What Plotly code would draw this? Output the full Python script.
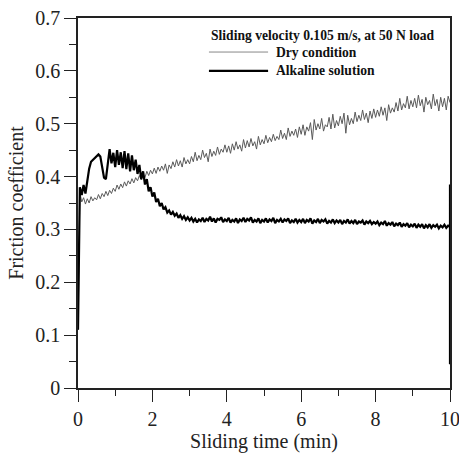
import numpy as np
import plotly.graph_objects as go

# Sampling grid (min), 0.05 min step
time_min = np.round(np.arange(0, 201) * 0.05, 2)

dry_condition = [
    0.11, 0.37, 0.352, 0.36, 0.348, 0.358, 0.35, 0.362, 0.354, 0.36, 0.356, 0.366, 0.358, 0.368, 0.362, 0.372, 0.364, 0.374, 0.368, 0.378,
    0.372, 0.384, 0.376, 0.386, 0.379, 0.39, 0.382, 0.392, 0.386, 0.396, 0.388, 0.398, 0.392, 0.402, 0.394, 0.404, 0.398, 0.41, 0.402, 0.412,
    0.405, 0.416, 0.406, 0.418, 0.41, 0.42, 0.412, 0.424, 0.406, 0.422, 0.415, 0.428, 0.418, 0.432, 0.42, 0.43, 0.418, 0.436, 0.424, 0.432,
    0.424, 0.438, 0.428, 0.446, 0.43, 0.44, 0.432, 0.45, 0.436, 0.444, 0.428, 0.452, 0.438, 0.448, 0.44, 0.456, 0.442, 0.452, 0.446, 0.46,
    0.446, 0.458, 0.444, 0.462, 0.45, 0.466, 0.452, 0.46, 0.448, 0.47, 0.454, 0.468, 0.456, 0.472, 0.458, 0.466, 0.452, 0.476, 0.46, 0.47,
    0.462, 0.478, 0.464, 0.474, 0.466, 0.48, 0.468, 0.476, 0.47, 0.488, 0.472, 0.482, 0.47, 0.492, 0.476, 0.486, 0.478, 0.49, 0.474, 0.494,
    0.48, 0.498, 0.478, 0.494, 0.486, 0.502, 0.47, 0.508, 0.488, 0.5, 0.49, 0.51, 0.486, 0.498, 0.494, 0.512, 0.49, 0.518, 0.492, 0.506,
    0.496, 0.514, 0.5, 0.52, 0.482, 0.516, 0.498, 0.51, 0.5, 0.522, 0.504, 0.516, 0.506, 0.526, 0.508, 0.52, 0.502, 0.524, 0.51, 0.528,
    0.512, 0.526, 0.514, 0.532, 0.516, 0.53, 0.506, 0.536, 0.52, 0.53, 0.522, 0.54, 0.524, 0.548, 0.526, 0.538, 0.53, 0.552, 0.528, 0.544,
    0.532, 0.548, 0.53, 0.554, 0.534, 0.546, 0.522, 0.55, 0.536, 0.544, 0.528, 0.556, 0.534, 0.546, 0.524, 0.55, 0.532, 0.548, 0.526, 0.552,
    0.54,
]

alkaline_solution = [
    0.11, 0.38, 0.365, 0.384, 0.368, 0.39, 0.415, 0.428, 0.432, 0.436, 0.44, 0.442, 0.438, 0.42, 0.398, 0.395, 0.43, 0.452, 0.425, 0.445,
    0.418, 0.45, 0.422, 0.446, 0.416, 0.448, 0.414, 0.444, 0.41, 0.44, 0.412, 0.432, 0.405, 0.422, 0.395, 0.41, 0.385, 0.395, 0.372, 0.38,
    0.362, 0.37, 0.352, 0.358, 0.344, 0.35, 0.338, 0.342, 0.332, 0.336, 0.328, 0.333, 0.326, 0.33, 0.322, 0.327, 0.32, 0.325, 0.318, 0.323,
    0.317, 0.322, 0.315, 0.32, 0.313, 0.319, 0.316, 0.322, 0.314, 0.32, 0.317, 0.324, 0.315, 0.321, 0.313, 0.32, 0.318, 0.323, 0.314, 0.319,
    0.316, 0.322, 0.313, 0.318, 0.315, 0.321, 0.312, 0.319, 0.316, 0.322, 0.314, 0.32, 0.317, 0.323, 0.313, 0.318, 0.315, 0.321, 0.312, 0.318,
    0.315, 0.321, 0.313, 0.319, 0.316, 0.322, 0.312, 0.318, 0.315, 0.32, 0.313, 0.319, 0.316, 0.321, 0.312, 0.317, 0.314, 0.32, 0.313, 0.318,
    0.314, 0.32, 0.312, 0.318, 0.315, 0.321, 0.311, 0.317, 0.314, 0.32, 0.312, 0.318, 0.315, 0.319, 0.311, 0.316, 0.313, 0.319, 0.312, 0.317,
    0.313, 0.318, 0.31, 0.316, 0.313, 0.319, 0.311, 0.316, 0.312, 0.318, 0.31, 0.315, 0.313, 0.317, 0.309, 0.315, 0.312, 0.316, 0.31, 0.314,
    0.311, 0.315, 0.308, 0.313, 0.31, 0.316, 0.307, 0.312, 0.309, 0.314, 0.306, 0.311, 0.308, 0.313, 0.305, 0.31, 0.307, 0.312, 0.304, 0.309,
    0.306, 0.311, 0.303, 0.309, 0.305, 0.31, 0.302, 0.308, 0.304, 0.31, 0.303, 0.308, 0.305, 0.309, 0.302, 0.307, 0.304, 0.309, 0.303, 0.307,
    0.305,
]
# final unloading step recorded at the end of the run
alkaline_end_time = [10.0, 10.0]
alkaline_end_values = [0.385, 0.045]

legend_title = "Sliding velocity 0.105 m/s, at 50 N load"
series_names = ["Dry condition", "Alkaline solution"]
x_title = "Sliding time (min)"
y_title = "Friction coefficient"

FONT = "Liberation Serif"
DRY_COLOR = "#5a5a5a"
ALK_COLOR = "#000000"

fig = go.Figure()
fig.add_trace(go.Scatter(x=time_min, y=dry_condition, mode="lines",
                         line=dict(color=DRY_COLOR, width=1), name=series_names[0]))
fig.add_trace(go.Scatter(x=list(time_min) + alkaline_end_time,
                         y=alkaline_solution + alkaline_end_values, mode="lines",
                         line=dict(color=ALK_COLOR, width=2.2), name=series_names[1]))

axis_common = dict(showline=True, linecolor="#222", linewidth=1.5, mirror=True,
                   ticks="outside", ticklen=12, tickwidth=1.3, tickcolor="#222",
                   showgrid=False, zeroline=False, automargin=False,
                   ticklabeloverflow="allow",
                   tickfont=dict(family=FONT, size=20, color="#222"))

fig.update_xaxes(range=[0, 10], dtick=2, tick0=0,
                 minor=dict(dtick=1, ticks="outside", ticklen=6, tickcolor="#222", tickwidth=1.2),
                 title=dict(text=x_title, font=dict(family=FONT, size=20, color="#222"), standoff=4),
                 **axis_common)
fig.update_yaxes(range=[0, 0.7], dtick=0.1, tick0=0,
                 minor=dict(dtick=0.05, ticks="outside", ticklen=7, tickcolor="#222", tickwidth=1.2),
                 title=dict(text=y_title, font=dict(family=FONT, size=20, color="#222"), standoff=6),
                 **axis_common)

# Legend drawn as in the original (title line + two samples)
lx0, lx1, ltx = 0.352, 0.511, 0.527
fig.add_annotation(xref="paper", yref="paper", x=lx0, y=0.954, xanchor="left", yanchor="middle",
                   text="<b>" + legend_title + "</b>", showarrow=False,
                   font=dict(family=FONT, size=13.6, color="#111"))
for yy, name, col, w in [(0.908, series_names[0], "#888888", 1), (0.857, series_names[1], ALK_COLOR, 2.2)]:
    fig.add_shape(type="line", xref="paper", yref="paper", x0=lx0, x1=lx1, y0=yy, y1=yy,
                  line=dict(color=col, width=w))
    fig.add_annotation(xref="paper", yref="paper", x=ltx, y=yy, xanchor="left", yanchor="middle",
                       text="<b>" + name + "</b>", showarrow=False,
                       font=dict(family=FONT, size=13.6, color="#111"))

fig.update_layout(width=459, height=454, margin=dict(l=78, r=9, t=18, b=66),
                  plot_bgcolor="white", paper_bgcolor="white", showlegend=False,
                  font=dict(family=FONT, color="#222"))

fig.write_html("out.html")
